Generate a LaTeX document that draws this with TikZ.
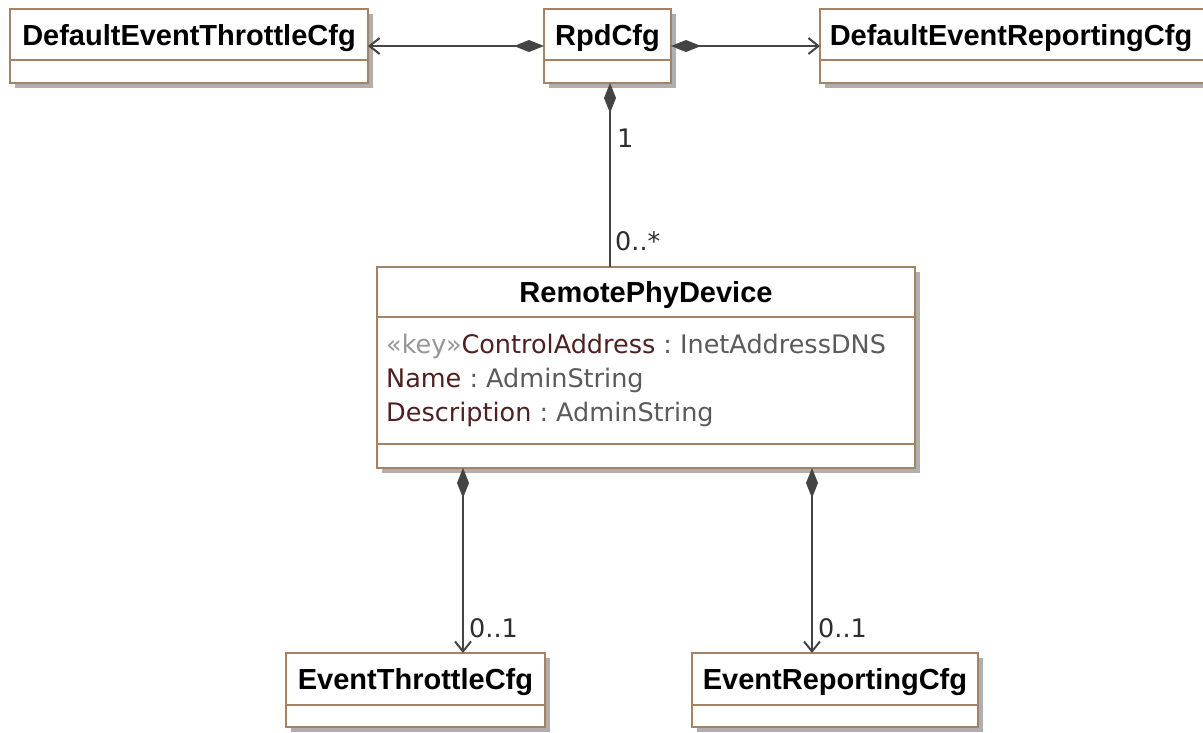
\documentclass[tikz,border=0pt]{standalone}
\usepackage{fontspec}
\setmainfont{Liberation Sans}
\newfontfamily\attrfont{DejaVu Sans}
\usetikzlibrary{arrows.meta,shadows}
\definecolor{boxbrown}{RGB}{165,130,100}
\definecolor{linegray}{RGB}{68,68,68}
\definecolor{shadowgray}{RGB}{175,175,175}
\definecolor{attrname}{RGB}{80,32,32}
\definecolor{attrtype}{RGB}{90,90,90}
\definecolor{stereo}{RGB}{150,150,150}
\definecolor{multcol}{RGB}{45,45,45}

\begin{document}
\begin{tikzpicture}[x=1pt,y=-1pt,
  umlbox/.style={rectangle, draw=boxbrown, line width=2.2pt, fill=white,
    inner sep=0pt, outer sep=0pt,
    general shadow={fill=shadowgray, shadow xshift=5pt, shadow yshift=-5pt}},
  classname/.style={font=\fontsize{29}{34}\selectfont\bfseries, text=black,
    inner sep=0pt, anchor=base},
  attr/.style={font=\attrfont\fontsize{25.5}{30}\selectfont, inner sep=0pt,
    anchor=base west},
  mult/.style={font=\attrfont\fontsize{25.5}{30}\selectfont, text=multcol,
    inner sep=0pt, anchor=base west},
  compart/.style={draw=boxbrown, line width=2.2pt},
  assoc/.style={draw=linegray, line width=2pt},
  owner/.style={{Diamond[length=30pt,width=12pt]}-},
  ownernav/.style={{Diamond[length=30pt,width=12pt]}-{Straight Barb[length=10pt,width=16pt]}}
]
\useasboundingbox (0,0) rectangle (1203,732);
\clip (0,0) rectangle (1203,732);

% ---- class boxes ----
\node[umlbox, minimum width=358pt, minimum height=74pt] (det)    at (189,46) {};
\node[umlbox, minimum width=127pt, minimum height=74pt] (rpdcfg) at (607.5,46) {};
\node[umlbox, minimum width=387pt, minimum height=74pt] (derc)   at (1013.5,46) {};
\node[umlbox, minimum width=538pt, minimum height=201pt] (rpd)   at (646,367.5) {};
\node[umlbox, minimum width=259pt, minimum height=74pt] (etc)    at (415.5,690) {};
\node[umlbox, minimum width=286pt, minimum height=74pt] (erc)    at (835,690) {};

% ---- compartment dividers ----
\foreach \b in {det,rpdcfg,derc}
  \draw[compart] ([yshift=-51pt]\b.north west) -- ([yshift=-51pt]\b.north east);
\foreach \b in {etc,erc}
  \draw[compart] ([yshift=-52pt]\b.north west) -- ([yshift=-52pt]\b.north east);
\draw[compart] ([yshift=-50pt]rpd.north west) -- ([yshift=-50pt]rpd.north east);
\draw[compart] ([yshift=24pt]rpd.south west) -- ([yshift=24pt]rpd.south east);

% ---- class names ----
\node[classname] (detname)    at (189,45)     {DefaultEventThrottleCfg};
\node[classname] (rpdcfgname) at (607.5,45)   {RpdCfg};
\node[classname] (dercname)   at (1011,45)    {DefaultEventReportingCfg};
\node[classname] (rpdname)    at (646,302.5)  {RemotePhyDevice};
\node[classname] (etcname)    at (415.5,689)  {EventThrottleCfg};
\node[classname] (ercname)    at (835,689)    {EventReportingCfg};

% ---- attributes ----
\node[attr] (attrctl)  at (386,353) {\textcolor{stereo}{«key»}\textcolor{attrname}{ControlAddress}\textcolor{attrtype}{~:~InetAddressDNS}};
\node[attr] (attrname) at (386,387) {\textcolor{attrname}{Name}\textcolor{attrtype}{~:~AdminString}};
\node[attr] (attrdesc) at (386,421) {\textcolor{attrname}{Description}\textcolor{attrtype}{~:~AdminString}};

% ---- associations ----
\draw[assoc, ownernav] (rpdcfg.west) -- (det.east);
\draw[assoc, ownernav] (rpdcfg.east) -- (derc.west);
\draw[assoc, owner] ([xshift=2.5pt]rpdcfg.south) -- ([xshift=2.5pt]rpdcfg.south |- rpd.north);
\draw[assoc, ownernav] ([xshift=-183pt]rpd.south) -- ([xshift=-183pt]rpd.south |- etc.north);
\draw[assoc, ownernav] ([xshift=166pt]rpd.south) -- ([xshift=166pt]rpd.south |- erc.north);

% ---- multiplicities ----
\node[mult] (mone)  at (617,147) {1};
\node[mult] (mmany) at (615,250) {0..*};
\node[mult] (metc)  at (469,637) {0..1};
\node[mult] (merc)  at (818,637) {0..1};
\end{tikzpicture}
\end{document}
